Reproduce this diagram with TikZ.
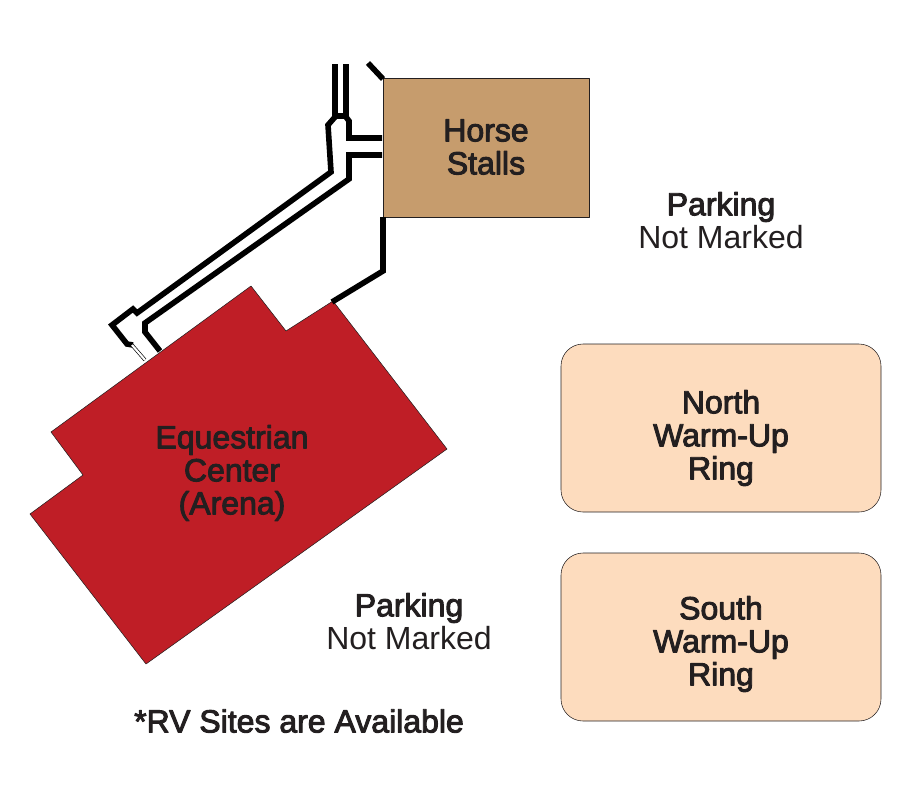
\documentclass[tikz,border=0pt]{standalone}
\usepackage{fontspec}
\setmainfont{Liberation Sans}
\newfontfamily\medfont[FakeBold=3]{Liberation Sans}
\definecolor{arena}{HTML}{BF1E26}
\definecolor{stalls}{HTML}{C69C6D}
\definecolor{ring}{HTML}{FDDCBE}
\definecolor{ink}{HTML}{231F20}
\tikzset{
	wall/.style={line width=4.2pt, line join=miter, line cap=butt},
	ringbox/.style={draw=ink, line width=0.4pt, fill=ring, rounded corners=16.5pt},
	bold label/.style={align=center, text=ink, font=\fontsize{24}{24.75}\selectfont\medfont},
	plain label/.style={align=center, text=ink, font=\fontsize{24}{24.75}\selectfont},
}
\begin{document}
\begin{tikzpicture}[x=0.75pt, y=-0.75pt, line join=round]
	\useasboundingbox (0,0) rectangle (924,800);
	% building outlines
	\draw[ink, line width=0.4pt, fill=arena] (251,286)--(286,331)--(333,301)--(447,449)--(146,664)--(30,514)--(83,475)--(51,432)--cycle;
	\draw[ink, line width=0.4pt, fill=stalls] (383,78) rectangle (589,217);
	\draw[ringbox] (561,344) rectangle (881,512);
	\draw[ringbox] (561,553) rectangle (881,721);
	% walkways
	\draw[wall] (335,64)--(335,117)--(328,125)--(331,172)--(137,313)--(133,309)--(112,325)--(127,344)--(133,345);
	\draw[wall] (346,64)--(346,117)--(349,121)--(349,138)--(382,138);
	\draw[wall] (335,116)--(347,116);
	\draw[wall] (382,155)--(349,155)--(349,179)--(145,323)--(145,332)--(160,351);
	\draw[wall] (368,63)--(383,79);
	\draw[wall] (383,217)--(383,271)--(332,302);
	\draw[line width=2.6pt] (132,345)--(145,360);
	\draw[white, line width=1.6pt] (132,345)--(145,360);
	% labels
	\node[bold label] (stallsname) at (486,147) {Horse\\Stalls};
	\node[bold label] (arenaname) at (232,473) {Equestrian\\Center\\(Arena)};
	\node[bold label] (northname) at (721,438) {North\\Warm-Up\\Ring};
	\node[bold label] (southname) at (721,644) {South\\Warm-Up\\Ring};
	\node[bold label] (parkingeast) at (721,207) {Parking};
	\node[plain label] (noteast) at (721,237) {Not Marked};
	\node[bold label] (parkingsouth) at (409,608) {Parking};
	\node[plain label] (notsouth) at (409,638) {Not Marked};
	\node[bold label] (rvnote) at (299,721) {*RV Sites are Available};
\end{tikzpicture}
\end{document}
